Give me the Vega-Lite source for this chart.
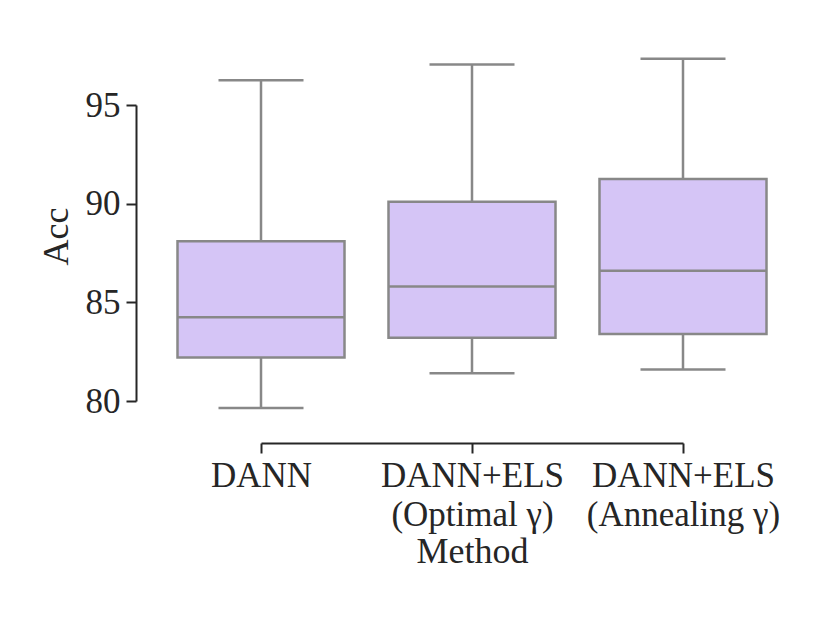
{
  "$schema": "https://vega.github.io/schema/vega-lite/v6.json",
  "autosize": "none",
  "width": 422,
  "height": 296,
  "padding": {"left": 261, "top": 105, "right": 147, "bottom": 222},
  "background": "white",
  "config": {
    "view": {"stroke": null},
    "font": "Liberation Serif",
    "axis": {
      "labelFont": "Liberation Serif",
      "titleFont": "Liberation Serif",
      "labelFontSize": 35,
      "titleFontSize": 36,
      "labelLimit": 400,
      "labelColor": "#262626",
      "titleColor": "#262626",
      "domainColor": "#262626",
      "tickColor": "#262626",
      "domainWidth": 2,
      "tickWidth": 2,
      "tickSize": 10,
      "grid": false,
      "titleFontWeight": "normal"
    }
  },
  "data": {
    "values": [
      {"method": "DANN\n", "low": 79.65, "q1": 82.2, "median": 84.25, "q3": 88.1, "high": 96.25},
      {"method": "DANN+ELS\n(Optimal γ)", "low": 81.4, "q1": 83.2, "median": 85.8, "q3": 90.1, "high": 97.05},
      {"method": "DANN+ELS\n(Annealing γ)", "low": 81.6, "q1": 83.4, "median": 86.6, "q3": 91.25, "high": 97.35}
    ]
  },
  "encoding": {
    "x": {
      "field": "method",
      "type": "nominal",
      "sort": null,
      "scale": {"type": "point", "padding": 0},
      "title": "Method",
      "axis": {
        "offset": 42,
        "labelAngle": 0,
        "labelPadding": 5,
        "labelLineHeight": 39,
        "labelBaseline": "top",
        "labelExpr": "split(datum.label, '\\n')",
        "titlePadding": 2
      }
    }
  },
  "layer": [
    {
      "mark": {"type": "rule", "color": "#888888", "strokeWidth": 2.5},
      "encoding": {
        "y": {
          "field": "low",
          "type": "quantitative",
          "scale": {"domain": [80, 95], "nice": false, "zero": false},
          "title": "Acc",
          "axis": {"values": [80, 85, 90, 95], "offset": 125, "labelPadding": 6, "titlePadding": 10, "titleY": 131}
        },
        "y2": {"field": "high"}
      }
    },
    {
      "mark": {"type": "bar", "size": 167, "fill": "#d5c5f6", "stroke": "#888888", "strokeWidth": 2.5},
      "encoding": {
        "y": {"field": "q1", "type": "quantitative"},
        "y2": {"field": "q3"}
      }
    },
    {
      "mark": {"type": "tick", "size": 167, "thickness": 2.5, "color": "#888888", "opacity": 1},
      "encoding": {"y": {"field": "median", "type": "quantitative"}}
    },
    {
      "mark": {"type": "tick", "size": 85, "thickness": 2.5, "color": "#888888", "opacity": 1},
      "encoding": {"y": {"field": "low", "type": "quantitative"}}
    },
    {
      "mark": {"type": "tick", "size": 85, "thickness": 2.5, "color": "#888888", "opacity": 1},
      "encoding": {"y": {"field": "high", "type": "quantitative"}}
    }
  ]
}
